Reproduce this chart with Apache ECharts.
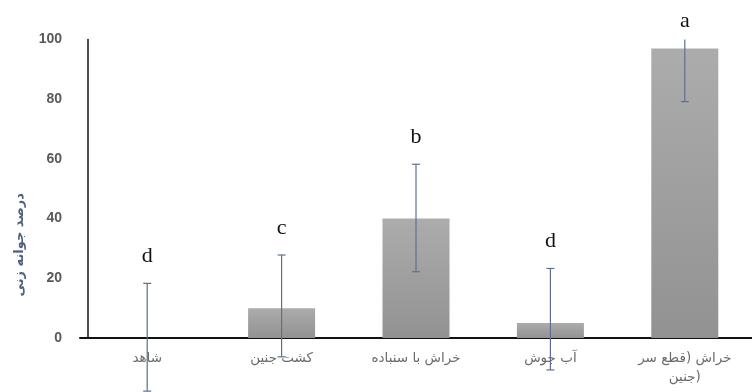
<!DOCTYPE html>
<html>
<head>
<meta charset="utf-8">
<script src="https://cdn.jsdelivr.net/npm/echarts@6/dist/echarts.min.js"></script>
<style>
  html, body { margin: 0; padding: 0; background: #fff; }
  #chart { width: 752px; height: 392px; }
</style>
</head>
<body>
<div id="chart"></div>
<script>
// germination % per treatment
const categories = ['شاهد', 'کشت جنین', 'خراش با سنباده', 'آب جوش', 'خراش (قطع سر جنین)']
const means = [0, 10, 40, 5, 97]
const errLow = [-17.8, -6.3, 22.2, -10.7, 79.2]
const errHigh = [18.3, 27.8, 58.2, 23.3, 115]
const letters = ['d', 'c', 'b', 'd', 'a']
const yTicks = [0, 20, 40, 60, 80, 100]

const yMax = yTicks[yTicks.length - 1]
const errColor = '#5d7090'

function renderError(params, api) {
  const i = api.value(0)
  const top = Math.min(api.value(2), yMax)
  const lo = api.coord([i, api.value(1)])
  const hi = api.coord([i, top])
  const x = lo[0]
  const cap = 4
  const style = { stroke: errColor, lineWidth: 1.2 }
  const children = [
    { type: 'line', shape: { x1: x, y1: lo[1], x2: x, y2: hi[1] }, style },
    { type: 'line', shape: { x1: x - cap, y1: lo[1], x2: x + cap, y2: lo[1] }, style },
  ]
  const clipped = api.value(2) > yMax
  if (!clipped) {
    children.push({ type: 'line', shape: { x1: x - cap, y1: hi[1], x2: x + cap, y2: hi[1] }, style })
  }
  children.push({
    type: 'text',
    x: x,
    y: hi[1] - (clipped ? 7 : 16),
    style: {
      text: letters[params.dataIndex],
      fill: '#111',
      fontSize: 22,
      fontFamily: "'Liberation Serif', 'DejaVu Serif', serif",
      align: 'center',
      verticalAlign: 'bottom',
    },
  })
  return { type: 'group', children }
}

// long names wrap after the third word, like the original
function wrapLabel(v) {
  const w = v.split(' ')
  return w.length > 3 ? w.slice(0, 3).join(' ') + '\n' + w.slice(3).join(' ') : v
}

const chart = echarts.init(document.getElementById('chart'))
chart.setOption({
  backgroundColor: '#fff',
  animation: false,
  grid: { left: 80, width: 680, top: 39.5, height: 298.5 },
  xAxis: {
    type: 'category',
    data: categories,
    axisLine: { lineStyle: { color: '#111', width: 2 } },
    axisTick: { show: false },
    axisLabel: {
      interval: 0,
      hideOverlap: false,
      color: '#6a6a6a',
      fontSize: 13.5,
      fontFamily: "'DejaVu Sans', sans-serif",
      margin: 11,
      lineHeight: 19,
      formatter: wrapLabel,
    },
  },
  yAxis: {
    type: 'value',
    min: 0,
    max: yMax,
    interval: 20,
    offset: -8,
    name: 'درصد جوانه زنی',
    nameLocation: 'middle',
    nameRotate: 90,
    nameGap: 62,
    nameTextStyle: {
      color: '#4f6080',
      fontSize: 13,
      fontWeight: 'bold',
      fontFamily: "'DejaVu Sans', sans-serif",
      padding: [0, 112, 0, 0],
    },
    axisLine: { show: true, lineStyle: { color: '#111', width: 1.5 } },
    axisTick: { show: false },
    splitLine: { show: false },
    axisLabel: {
      color: '#595959',
      fontSize: 14,
      fontWeight: 'bold',
      fontFamily: "'Liberation Sans', Arial, sans-serif",
      margin: 26,
    },
  },
  series: [
    {
      type: 'bar',
      data: means,
      barWidth: 67,
      itemStyle: {
        color: new echarts.graphic.LinearGradient(0, 0, 0, 1, [
          { offset: 0, color: '#acacac' },
          { offset: 1, color: '#929292' },
        ]),
      },
    },
    {
      type: 'custom',
      renderItem: renderError,
      clip: false,
      encode: { x: 0, y: [1, 2] },
      data: means.map((m, i) => [i, errLow[i], errHigh[i]]),
      z: 5,
    },
  ],
})
</script>
</body>
</html>
